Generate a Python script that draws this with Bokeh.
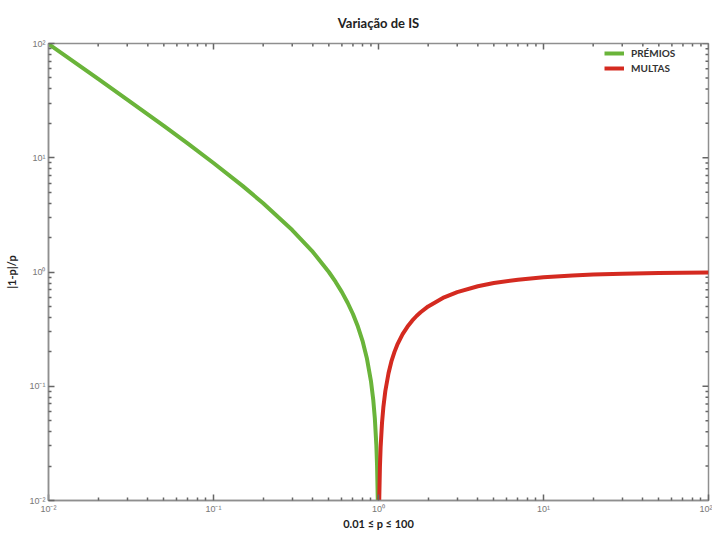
import math
from bokeh.plotting import figure
from bokeh.models import Legend, LegendItem, FixedTicker
from bokeh.embed import file_html
from bokeh.resources import INLINE

# ---- data ----
p_premios = [0.01, 0.015, 0.02, 0.03, 0.05, 0.07, 0.1, 0.15, 0.2, 0.3, 0.4, 0.5, 0.55,
             0.6, 0.65, 0.7, 0.75, 0.8, 0.85, 0.9, 0.93, 0.95, 0.97, 0.98, 0.99, 0.995]
y_premios = [99, 65.7, 49, 32.3, 19, 13.3, 9, 5.67, 4, 2.33, 1.5, 1, 0.818,
             0.667, 0.538, 0.429, 0.333, 0.25, 0.176, 0.111, 0.0753, 0.0526, 0.0309, 0.0204, 0.0101, 0.005]
p_multas = [1.005, 1.01, 1.02, 1.03, 1.05, 1.07, 1.1, 1.15, 1.2, 1.25, 1.3, 1.4, 1.5, 1.6, 1.7, 1.8,
            2, 2.5, 3, 4, 5, 7, 10, 15, 20, 30, 50, 70, 100]
y_multas = [0.005, 0.0099, 0.0196, 0.0291, 0.0476, 0.0654, 0.0909, 0.130, 0.167, 0.2, 0.231, 0.286,
            0.333, 0.375, 0.412, 0.444,
            0.5, 0.6, 0.667, 0.75, 0.8, 0.857, 0.9, 0.933, 0.95, 0.967, 0.98, 0.986, 0.99]
tick_values = [0.01, 0.1, 1, 10, 100]
tick_labels = ["10\u207b\u00b2", "10\u207b\u00b9", "10\u2070", "10\u00b9", "10\u00b2"]
minor_mults = [2, 3, 4, 5, 6, 7, 8, 9]
title = "Variação de IS"
x_label = "0.01 \u2264 p \u2264 100"
y_label = "|1-p|/p"
series_names = ["PRÉMIOS", "MULTAS"]
GREEN = "#6ab43a"
RED = "#d42a20"
AXIS = "#8f8f8f"
TICK = "#666666"

minor_ticks = [m * t for t in tick_values[:-1] for m in minor_mults]
lo, hi = tick_values[0], tick_values[-1]

p = figure(width=712, height=534, x_axis_type="log", y_axis_type="log",
           x_range=(lo, hi), y_range=(lo, hi),
           output_backend="svg", toolbar_location=None,
           min_border_left=48, min_border_right=4, min_border_top=42, min_border_bottom=34)

p.title.text = title
p.title.align = "center"
p.title.text_font = "Lato"
p.title.text_font_size = "13px"
p.title.text_font_style = "bold"
p.title.text_color = "#222222"
p.title.offset = 0
p.title.standoff = 25

p.xgrid.visible = False
p.ygrid.visible = False
p.outline_line_color = AXIS
p.outline_line_width = 1.5

overrides = dict(zip(tick_values, tick_labels))

for ax in p.xaxis + p.yaxis:
    ax.ticker = FixedTicker(ticks=tick_values, minor_ticks=minor_ticks)
    ax.axis_line_color = AXIS
    ax.axis_line_width = 1.5
    ax.major_tick_line_color = TICK
    ax.minor_tick_line_color = TICK
    ax.major_tick_line_width = 1.5
    ax.minor_tick_line_width = 1.5
    ax.major_tick_in = 6
    ax.major_tick_out = 0
    ax.minor_tick_in = 3
    ax.minor_tick_out = 0
    ax.major_label_text_font = "Liberation Sans"
    ax.major_label_text_font_size = "9px"
    ax.major_label_text_color = "#777777"
    ax.major_label_standoff = 3
    ax.major_label_overrides = overrides
    ax.axis_label_text_font = "Lato"
    ax.axis_label_text_font_style = "bold"
    ax.axis_label_text_font_size = "11px"
    ax.axis_label_text_color = "#222222"

p.xaxis.axis_label = x_label
p.yaxis.axis_label = y_label
p.xaxis.axis_label_standoff = 0
p.yaxis.axis_label_standoff = 8

# inward tick marks along the top and right edges
for ticks, length in ((tick_values, 6), (minor_ticks, 3)):
    n = len(ticks)
    p.ray(x=ticks, y=[hi] * n, length=length, length_units="screen", angle=-math.pi / 2,
          line_color=TICK, line_width=1.5)
    p.ray(x=[hi] * n, y=ticks, length=length, length_units="screen", angle=math.pi,
          line_color=TICK, line_width=1.5)

r1 = p.line(p_premios, y_premios, line_color=GREEN, line_width=4)
r2 = p.line(p_multas, y_multas, line_color=RED, line_width=4)

legend = Legend(items=[LegendItem(label=series_names[0], renderers=[r1]),
                       LegendItem(label=series_names[1], renderers=[r2])],
                location=(552, 422), border_line_alpha=0, background_fill_alpha=0,
                label_text_font="Lato", label_text_font_style="bold",
                label_text_font_size="10px", label_text_color="#333333",
                glyph_width=20, glyph_height=10, label_standoff=7, spacing=3,
                padding=4, margin=0, label_height=12)
p.add_layout(legend)

open("out.html", "w").write(file_html(p, INLINE))
